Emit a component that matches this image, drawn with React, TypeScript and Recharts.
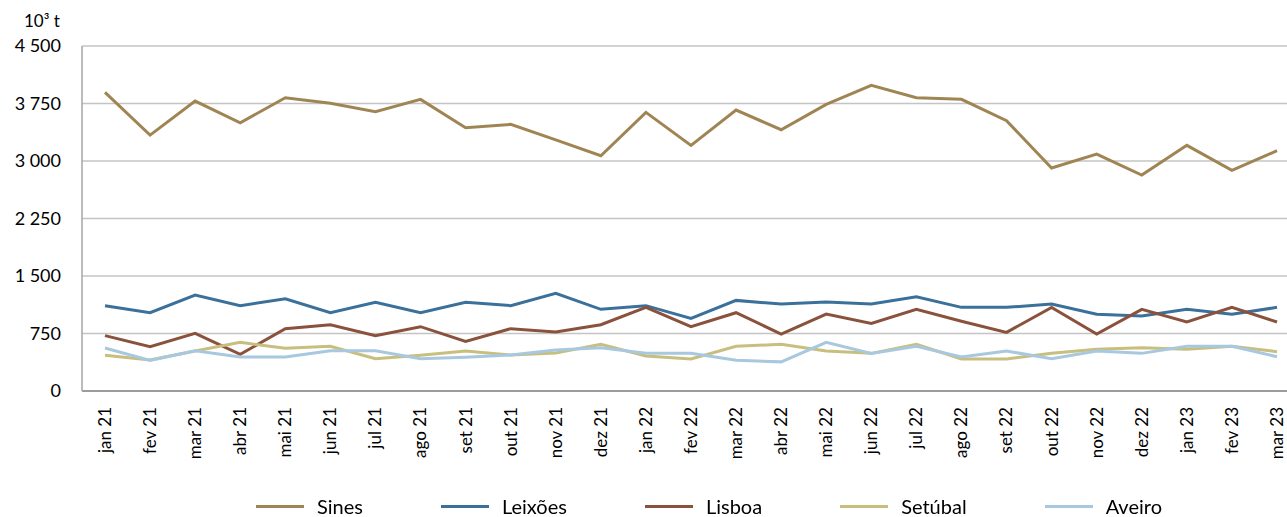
import { LineChart, Line, XAxis, YAxis, CartesianGrid } from "recharts";

const months = [
  "jan 21", "fev 21", "mar 21", "abr 21", "mai 21", "jun 21", "jul 21", "ago 21", "set 21",
  "out 21", "nov 21", "dez 21", "jan 22", "fev 22", "mar 22", "abr 22", "mai 22", "jun 22",
  "jul 22", "ago 22", "set 22", "out 22", "nov 22", "dez 22", "jan 23", "fev 23", "mar 23",
];

const sines = [
  3895, 3338, 3782, 3499, 3825, 3752, 3642, 3804, 3434, 3478, 3275, 3069, 3634, 3204,
  3664, 3408, 3738, 3986, 3825, 3804, 3525, 2908, 3091, 2817, 3204, 2878, 3134,
];
const leixoes = [
  1113, 1021, 1252, 1113, 1204, 1021, 1156, 1021, 1156, 1113, 1274, 1065, 1113, 948,
  1182, 1134, 1160, 1134, 1230, 1091, 1091, 1134, 1000, 978, 1065, 1000, 1091,
];
const lisboa = [
  722, 578, 752, 478, 813, 865, 722, 839, 648, 813, 769, 865, 1091, 839,
  1021, 743, 1004, 882, 1065, 909, 765, 1091, 743, 1065, 900, 1091, 900,
];
const setubal = [
  465, 404, 522, 635, 557, 583, 421, 465, 522, 469, 496, 609, 456, 417,
  583, 609, 522, 491, 609, 417, 417, 491, 543, 565, 543, 583, 513,
];
const aveiro = [
  561, 400, 526, 443, 443, 526, 526, 421, 439, 469, 535, 565, 491, 491,
  400, 380, 635, 491, 583, 443, 522, 421, 522, 491, 583, 583, 447,
];

const yTicks = [0, 750, 1500, 2250, 3000, 3750, 4500];

const series = [
  { key: "Sines", values: sines, color: "#A08554" },
  { key: "Leixões", values: leixoes, color: "#3A709A" },
  { key: "Lisboa", values: lisboa, color: "#8A523C" },
  { key: "Setúbal", values: setubal, color: "#C8BE7E" },
  { key: "Aveiro", values: aveiro, color: "#A8C8E0" },
];

const data = months.map((month, i) => {
  const row: Record<string, string | number> = { month };
  series.forEach((s) => (row[s.key] = s.values[i]));
  return row;
});

const FONT = "Lato, 'Open Sans', sans-serif";

// "4500" -> "4 500"
const fmt = (v: number) => String(v).replace(/\B(?=(\d{3})+(?!\d))/g, " ");

function MonthTick(props: any) {
  const { x, y, payload } = props;
  return (
    <text
      x={x}
      y={y}
      transform={`rotate(-90, ${x}, ${y})`}
      textAnchor="end"
      dy="0.35em"
      fontSize={17}
      fontFamily={FONT}
      fill="#000"
    >
      {payload.value}
    </text>
  );
}

export default function App() {
  return (
    <div style={{ position: "fixed", left: 0, top: 0, width: 1287, height: 517, background: "#fff", fontFamily: FONT }}>
      <div style={{ position: "absolute", left: 24, top: 10, fontSize: 17, color: "#000" }}>10³ t</div>
      <LineChart
        width={1287}
        height={517}
        data={data}
        margin={{ top: 46, right: 0, bottom: 46, left: 0 }}
      >
        <CartesianGrid vertical={false} stroke="#C4C4C4" strokeWidth={1.5} />
        <XAxis
          dataKey="month"
          interval={0}
          height={80}
          padding={{ left: 23, right: 10 }}
          tickLine={false}
          tickMargin={10}
          axisLine={{ stroke: "#9C9C9C", strokeWidth: 2 }}
          tick={<MonthTick />}
        />
        <YAxis
          width={82}
          domain={[0, 4500]}
          ticks={yTicks}
          interval={0}
          tickLine={false}
          tickMargin={15}
          tickFormatter={fmt}
          axisLine={{ stroke: "#A6A6A6", strokeWidth: 1.5 }}
          tick={{ fontSize: 18, fill: "#000", fontFamily: FONT }}
        />
        {series.map((s) => (
          <Line
            key={s.key}
            dataKey={s.key}
            stroke={s.color}
            strokeWidth={3}
            dot={false}
            type="linear"
            isAnimationActive={false}
          />
        ))}
      </LineChart>
      <div
        style={{
          position: "absolute",
          left: 256,
          top: 497,
          height: 19,
          display: "flex",
          alignItems: "center",
          fontSize: 20,
          lineHeight: "19px",
          color: "#000",
        }}
      >
        {series.map((s) => (
          <div key={s.key} style={{ display: "flex", alignItems: "center", marginRight: 78 }}>
            <div style={{ width: 48, height: 3, background: s.color, marginRight: 13 }} />
            <span>{s.key}</span>
          </div>
        ))}
      </div>
    </div>
  );
}
